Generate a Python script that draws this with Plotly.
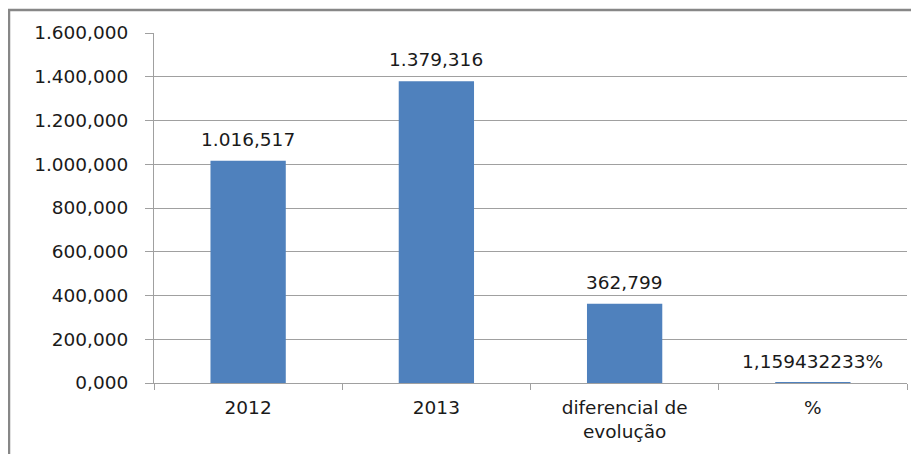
import plotly.graph_objects as go

categories = ["2012", "2013", "diferencial de<br>evolução", "%"]
values = [1016.517, 1379.316, 362.799, 1.159432233]
label_formats = [",.3f", ",.3f", ",.3f", ".9f"]
label_suffix = ["", "", "", "%"]
y_ticks = [0, 200, 400, 600, 800, 1000, 1200, 1400, 1600]

FONT = "DejaVu Sans"
FS = 18.5
TXT = "#1a1a1a"
W, H = 919, 454
# page body has an 8px margin, compensate so plot area lands where reference has it
L, R, T, B = 146, 20, 25, 79
pw, ph = W - L - R, H - T - B


def px_x(x):
    return (x - L) / pw


def px_y(y):
    return (H - B - y) / ph


def fmt(v, f):
    s = format(v, f.replace(",", "_") if "," in f else f)
    s = s.replace("_", "#").replace(".", ",").replace("#", ".")
    return s


fig = go.Figure(
    go.Bar(
        x=categories,
        y=values,
        marker=dict(color="#4f81bd", line=dict(width=0)),
        hoverinfo="skip",
    )
)

for i, (v, f, suf) in enumerate(zip(values, label_formats, label_suffix)):
    fig.add_annotation(
        x=i,
        y=v,
        xref="x",
        yref="y",
        text=fmt(v, f) + suf,
        showarrow=False,
        yanchor="bottom",
        yshift=9,
        font=dict(family=FONT, size=FS, color=TXT),
    )

fig.update_layout(
    width=W,
    height=H,
    margin=dict(l=L, r=R, t=T, b=B, pad=0),
    paper_bgcolor="white",
    plot_bgcolor="white",
    separators=",.",
    bargap=0.6,
    showlegend=False,
    font=dict(family=FONT, size=FS, color=TXT),
    xaxis=dict(
        type="category",
        categoryorder="array",
        categoryarray=categories,
        tickson="boundaries",
        ticks="outside",
        ticklen=6,
        tickcolor="#a0a0a0",
        showline=True,
        linecolor="#a0a0a0",
        linewidth=1,
        showgrid=False,
        ticklabelstandoff=8,
        tickfont=dict(family=FONT, size=FS, color=TXT),
    ),
    yaxis=dict(
        range=[0, 1600],
        tickvals=y_ticks,
        tickformat=",.3f",
        ticks="outside",
        ticklen=8,
        tickcolor="#a0a0a0",
        showline=True,
        linecolor="#a0a0a0",
        linewidth=1,
        showgrid=True,
        gridcolor="#a0a0a0",
        gridwidth=1,
        zeroline=False,
        ticklabelstandoff=13,
        tickfont=dict(family=FONT, size=FS, color=TXT),
    ),
    shapes=[
        dict(
            type="rect",
            xref="paper",
            yref="paper",
            x0=px_x(1),
            x1=px_x(917),
            y0=px_y(470),
            y1=px_y(2),
            line=dict(color="#878787", width=2.5),
            fillcolor="rgba(0,0,0,0)",
            layer="below",
        )
    ],
)

fig.write_html("out.html")
